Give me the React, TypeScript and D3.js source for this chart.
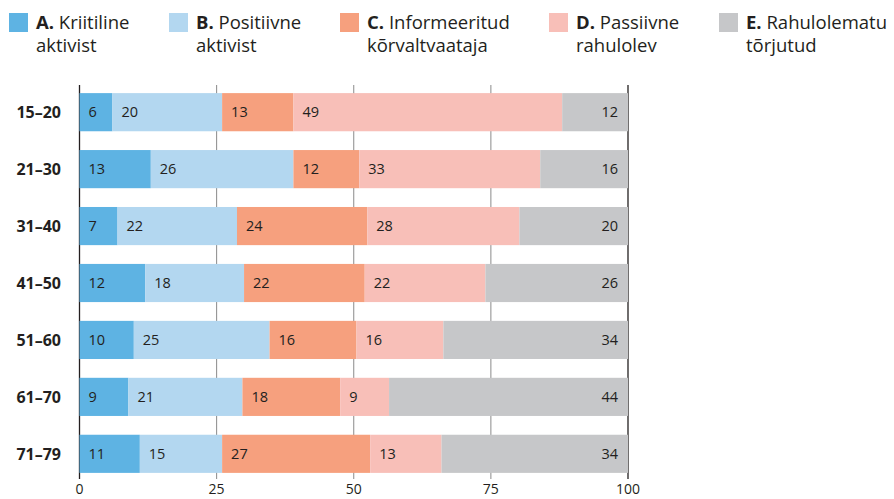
import React from "react";
import * as d3 from "d3";

const ageGroups = ["15–20", "21–30", "31–40", "41–50", "51–60", "61–70", "71–79"];
const seriesKeys = ["A", "B", "C", "D", "E"];
const seriesBold = ["A.", "B.", "C.", "D.", "E."];
const seriesLine1 = ["Kriitiline", "Positiivne", "Informeeritud", "Passiivne", "Rahulolematu"];
const seriesLine2 = ["aktivist", "aktivist", "kõrvaltvaataja", "rahulolev", "tõrjutud"];
const colors = ["#5eb3e3", "#b3d7f0", "#f6a07e", "#f8bfb8", "#c6c7c9"];
const valuesA = [6, 13, 7, 12, 10, 9, 11];
const valuesB = [20, 26, 22, 18, 25, 21, 15];
const valuesC = [13, 12, 24, 22, 16, 18, 27];
const valuesD = [49, 33, 28, 22, 16, 9, 13];
const valuesE = [12, 16, 20, 26, 34, 44, 34];
const xTicks = [0, 25, 50, 75, 100];
const legendX = [9, 169, 340, 549, 719];

const W = 894;
const H = 499;
const FONT = "'Open Sans', 'Noto Sans', sans-serif";
const TEXT = "#231f20";

export default function App() {
  const series = [valuesA, valuesB, valuesC, valuesD, valuesE];
  const x = d3.scaleLinear().domain([0, 100]).range([79.5, 628]);
  const y = d3.scaleBand().domain(ageGroups).range([84, 482]).paddingInner(0.33).paddingOuter(0.16);

  const rows = ageGroups.map((g, i) => {
    const vals = series.map((s) => s[i]);
    const total = d3.sum(vals);
    let cum = 0;
    const segs = vals.map((v, k) => {
      const x0 = (cum / total) * 100;
      cum += v;
      const x1 = (cum / total) * 100;
      return { k, v, x0, x1 };
    });
    return { g, segs };
  });

  return (
    <svg width={W} height={H} style={{ position: "absolute", left: 0, top: 0 }} fontFamily={FONT}>
      <rect width={W} height={H} fill="#fff" />
      {/* legend */}
      {seriesKeys.map((k, i) => (
        <g key={k}>
          <rect x={legendX[i]} y={13} width={19} height={19} fill={colors[i]} />
          <text x={legendX[i] + 27} y={28.5} fontSize={18.5} fill={TEXT}>
            <tspan fontWeight="bold">{seriesBold[i]}</tspan> {seriesLine1[i]}
          </text>
          <text x={legendX[i] + 27} y={52} fontSize={18.5} fill={TEXT}>
            {seriesLine2[i]}
          </text>
        </g>
      ))}
      {/* gridlines */}
      {xTicks.map((t) => (
        <line
          key={t}
          x1={x(t)}
          x2={x(t)}
          y1={85}
          y2={479}
          stroke={t === 0 || t === 100 ? TEXT : "#8a8a8a"}
          strokeWidth={t === 0 || t === 100 ? 1.3 : 1}
        />
      ))}
      {xTicks.map((t) => (
        <text key={"t" + t} x={x(t)} y={494} fontSize={14} fill={TEXT} textAnchor="middle">
          {t}
        </text>
      ))}
      {/* bars */}
      {rows.map((r) => {
        const yy = y(r.g)!;
        const bh = y.bandwidth();
        const cy = yy + bh / 2;
        return (
          <g key={r.g}>
            {r.segs.map((s) => (
              <rect key={s.k} x={x(s.x0)} y={yy} width={x(s.x1) - x(s.x0)} height={bh} fill={colors[s.k]} />
            ))}
            {r.segs.map((s) => (
              <text
                key={"l" + s.k}
                x={s.k === 4 ? x(s.x1) - 10 : x(s.x0) + 9}
                y={cy + 5}
                fontSize={14.5}
                fill={TEXT}
                textAnchor={s.k === 4 ? "end" : "start"}
              >
                {s.v}
              </text>
            ))}
            <text x={61} y={cy + 6} fontSize={16} fontWeight="bold" fill={TEXT} textAnchor="end">
              {r.g}
            </text>
          </g>
        );
      })}
    </svg>
  );
}
